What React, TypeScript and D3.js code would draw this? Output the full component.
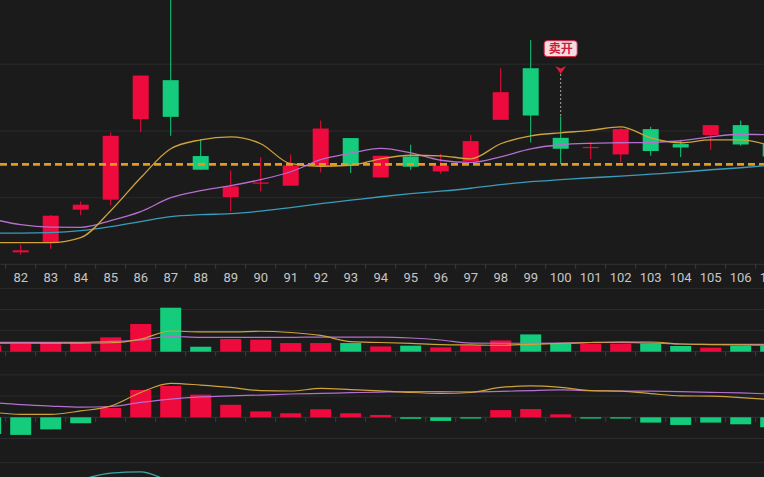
import React from "react";
import * as d3 from "d3";

// ---- data ----
const categories = ["81","82","83","84","85","86","87","88","89","90","91","92","93","94","95","96","97","98","99","100","101","102","103","104","105","106","107"];
const opens  = [101.6,101.84,103.33,108.22,109.72,121.78,127.61,116.25,110.12,112.11,111.81,114.84,118.94,113.05,116.19,113.95,115.50,121.67,129.40,118.98,117.46,116.49,120.28,118.04,119.39,120.88,118.09];
const closes = [101.9,102.14,107.32,108.97,119.28,128.30,122.12,114.20,111.70,112.30,114.84,120.37,114.90,116.29,114.65,114.80,118.49,125.81,122.32,117.34,117.61,120.28,117.00,117.53,120.88,117.98,116.19];
const highs  = [102.4,102.99,107.40,109.46,119.78,128.30,141.10,118.79,114.10,116.10,116.49,121.57,118.94,116.29,117.94,116.55,119.43,129.40,133.63,122.17,118.34,120.40,120.63,118.68,120.88,121.57,118.98];
const lows   = [101.2,101.49,102.35,107.37,108.86,119.84,119.28,114.20,107.97,110.96,111.81,113.80,113.71,113.05,114.20,113.60,115.50,121.67,118.28,115.05,115.80,115.35,116.29,116.10,117.19,117.79,115.70];
const ma5  = [103.29,103.29,103.29,104.04,108.07,113.00,117.34,118.68,119.13,118.09,115.10,114.72,114.87,115.84,116.37,116.29,115.84,118.09,119.28,119.73,120.10,120.63,118.98,118.24,118.68,118.68,117.79];
const ma10 = [106.88,105.98,105.61,105.58,106.58,107.92,110.01,111.06,111.81,112.71,113.90,115.70,116.67,117.41,116.74,115.62,115.29,116.14,117.34,117.94,118.16,118.24,118.31,118.54,119.13,119.51,119.43];
const ma20 = [104.71,104.71,104.78,105.08,105.68,106.43,107.17,107.47,107.62,108.00,108.52,109.12,109.64,110.16,110.61,110.99,111.43,111.96,112.41,112.71,113.00,113.23,113.53,113.83,114.20,114.50,114.87];
const signalLevel = 115.0;
const sellCategory = "100";
const sellText = "卖开";
const visibleLabels = ["82","83","84","85","86","87","88","89","90","91","92","93","94","95","96","97","98","99","100","101","102","103","104","105","106","107"];

const volumes = [6.0,7.3,8.8,8.2,13.6,26.3,41.7,4.7,12.0,11.4,8.2,8.2,8.2,5.0,5.7,4.1,6.0,10.7,16.4,7.6,7.6,7.6,7.9,5.4,3.8,5.7,5.7];
const volMa5  = [8.0,8.0,8.0,8.2,8.5,12.0,19.6,18.7,18.7,19.4,18.2,15.4,9.5,8.7,7.8,6.8,6.4,6.1,7.0,7.8,8.7,9.2,9.2,7.3,6.8,6.4,6.1];
const volMa10 = [8.9,8.9,8.9,8.9,9.7,11.1,14.4,13.6,13.6,13.6,13.6,13.9,13.9,13.9,13.0,11.1,8.2,8.0,8.0,8.2,8.7,8.9,8.2,7.3,7.0,7.0,7.0];

const macdHist = [-7.9,-8.3,-5.7,-2.8,4.4,12.9,14.8,10.7,5.9,2.8,1.9,3.8,1.9,1.1,-0.7,-1.7,-0.6,3.4,3.9,1.4,-0.6,-0.6,-2.5,-3.6,-2.5,-3.3,-4.7];
const dif = [2.5,1.4,1.4,3.0,5.3,11.7,16.0,15.2,14.1,12.6,12.4,13.6,13.1,12.5,11.7,11.3,11.7,14.1,14.8,14.1,12.6,12.3,11.2,10.1,10.0,9.3,8.4];
const dea = [7.0,6.0,5.3,4.8,5.1,7.0,8.6,9.6,10.1,10.5,11.0,11.3,11.6,11.9,12.1,12.1,12.0,12.2,12.6,12.9,12.6,12.4,12.3,12.1,11.8,11.5,11.0];

const thirdLine = [null,null,-2.0,2.0,5.1,5.7,1.2,-2.0,null,null,null,null,null,null,null,null,null,null,null,null,null,null,null,null,null,null,null];

// ---- styles ----
const W = 764, H = 477;
const BG = "#1b1b1b";
const GRID = "#2b2b2b";
const UP = "#ee0a3c";
const DOWN = "#14cc7c";
const C_MA5 = "#cfa23a";
const C_MA10 = "#b46fcf";
const C_MA20 = "#3a9cbc";

export default function App() {
  const x = d3.scaleBand<string>().domain(categories).range([-24.3, -24.3 + 30 * categories.length]).padding(0);
  const bw = x.bandwidth();
  const cx = (c: string) => (x(c) as number) + bw / 2;

  const yMain = d3.scaleLinear().domain([100, 140]).range([264.6, -2.6]);
  const yVol = d3.scaleLinear().domain([0, 60]).range([351.7, 288.4]);
  const yMacd = d3.scaleLinear().domain([-10, 20]).range([438.5, 374.9]);
  const y3 = d3.scaleLinear().domain([0, 10]).range([483.9, 462.7]);

  const mkLine = (vals: (number | null)[], y: d3.ScaleLinear<number, number>) =>
    d3.line<number | null>()
      .defined((d) => d !== null)
      .x((_, i) => cx(categories[i]))
      .y((d) => y(d as number))
      .curve(d3.curveMonotoneX)(vals) || "";

  const candleW = 16;
  const barW = 21;

  const sx = cx(sellCategory);
  const si = categories.indexOf(sellCategory);
  const arrowTip = 74;

  return (
    <svg width={W} height={H} style={{ position: "fixed", left: 0, top: 0, display: "block" }}>
      <defs>
        <clipPath id="mainClip"><rect x={0} y={0} width={W} height={264} /></clipPath>
        <clipPath id="thirdClip"><rect x={0} y={462} width={W} height={20} /></clipPath>
      </defs>
      <rect x={0} y={0} width={W} height={H} fill={BG} />

      {/* grid lines */}
      {[110, 120, 130].map((v) => (
        <line key={"gm" + v} x1={0} x2={W} y1={yMain(v)} y2={yMain(v)} stroke={GRID} strokeWidth={1} />
      ))}
      {[20, 40, 60].map((v) => (
        <line key={"gv" + v} x1={0} x2={W} y1={yVol(v)} y2={yVol(v)} stroke={GRID} strokeWidth={1} />
      ))}
      {[-10, 10, 20].map((v) => (
        <line key={"gd" + v} x1={0} x2={W} y1={yMacd(v)} y2={yMacd(v)} stroke={GRID} strokeWidth={1} />
      ))}
      <line x1={0} x2={W} y1={y3(10)} y2={y3(10)} stroke={GRID} strokeWidth={1} />

      {/* axis baselines + ticks */}
      {[264.3, yVol(0), yMacd(0)].map((yy, k) => (
        <g key={"ax" + k}>
          <line x1={0} x2={W} y1={yy} y2={yy} stroke="#333" strokeWidth={1} />
          {categories.map((c) => (
            <line key={c} x1={x(c)} x2={x(c)} y1={yy} y2={yy + 4.5} stroke="#3d3d3d" strokeWidth={1} />
          ))}
        </g>
      ))}
      {visibleLabels.map((c) => (
        <text key={"lb" + c} x={cx(c)} y={282} textAnchor="middle" fill="#c6c6c6"
          style={{ font: "13px Roboto, 'Noto Sans', sans-serif" }}>{c}</text>
      ))}

      {/* candles */}
      <g clipPath="url(#mainClip)">
        {categories.map((c, i) => {
          const up = closes[i] >= opens[i];
          const col = up ? UP : DOWN;
          const top = yMain(Math.max(opens[i], closes[i]));
          const bot = yMain(Math.min(opens[i], closes[i]));
          return (
            <g key={"cd" + c}>
              <line x1={cx(c)} x2={cx(c)} y1={yMain(highs[i])} y2={yMain(lows[i])} stroke={col} strokeWidth={1} />
              <rect x={cx(c) - candleW / 2} y={top} width={candleW} height={Math.max(1.2, bot - top)} fill={col} />
            </g>
          );
        })}
        <line x1={0} x2={W} y1={yMain(signalLevel)} y2={yMain(signalLevel)} stroke="#e39a21" strokeWidth={2.6} strokeDasharray="7 4" />
        <path d={mkLine(ma20, yMain)} fill="none" stroke={C_MA20} strokeWidth={1.3} />
        <path d={mkLine(ma10, yMain)} fill="none" stroke={C_MA10} strokeWidth={1.3} />
        <path d={mkLine(ma5, yMain)} fill="none" stroke={C_MA5} strokeWidth={1.3} />
      </g>

      {/* sell marker */}
      <line x1={sx} x2={sx} y1={arrowTip} y2={yMain(highs[si])} stroke="#a8a8a8" strokeWidth={1} strokeDasharray="2 2" />
      <path d={`M${sx - 5.5},66 L${sx},68.5 L${sx + 5.5},66 L${sx},${arrowTip} Z`} fill="#dc1e3e" />
      <rect x={sx - 16.5} y={40.7} width={33} height={15.8} rx={3} fill="#f4dde0" stroke="#d42a48" strokeWidth={1} />
      <text x={sx} y={53} textAnchor="middle" fill="#cc1f3c"
        style={{ font: "bold 12px 'Noto Sans CJK SC', sans-serif" }}>{sellText}</text>

      {/* volume */}
      {categories.map((c, i) => {
        const col = closes[i] >= opens[i] ? UP : DOWN;
        return <rect key={"v" + c} x={cx(c) - barW / 2} y={yVol(volumes[i])} width={barW} height={yVol(0) - yVol(volumes[i])} fill={col} />;
      })}
      <path d={mkLine(volMa10, yVol)} fill="none" stroke={C_MA10} strokeWidth={1.2} />
      <path d={mkLine(volMa5, yVol)} fill="none" stroke={C_MA5} strokeWidth={1.2} />

      {/* macd */}
      {categories.map((c, i) => {
        const v = macdHist[i];
        const col = v >= 0 ? UP : DOWN;
        const y0 = yMacd(0), y1 = yMacd(v);
        return <rect key={"m" + c} x={cx(c) - barW / 2} y={Math.min(y0, y1)} width={barW} height={Math.max(1, Math.abs(y1 - y0))} fill={col} />;
      })}
      <path d={mkLine(dea, yMacd)} fill="none" stroke={C_MA10} strokeWidth={1.2} />
      <path d={mkLine(dif, yMacd)} fill="none" stroke={C_MA5} strokeWidth={1.2} />

      {/* third panel */}
      <g clipPath="url(#thirdClip)">
        <path d={mkLine(thirdLine, y3)} fill="none" stroke="#3aa7a8" strokeWidth={1.3} />
      </g>
    </svg>
  );
}
